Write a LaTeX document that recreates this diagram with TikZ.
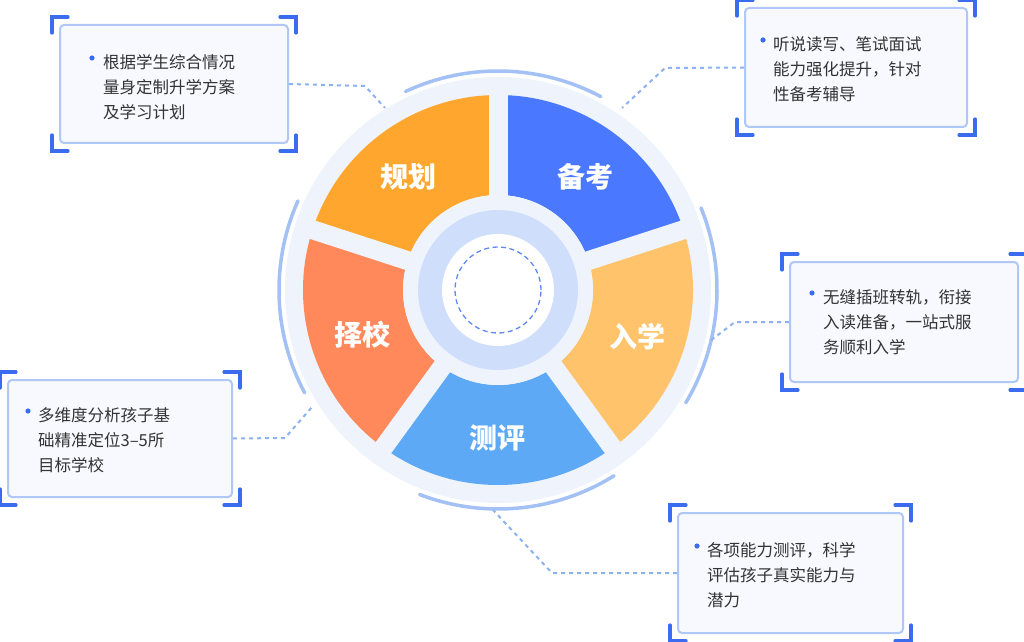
\documentclass[tikz,border=0pt]{standalone}
\usepackage{fontspec}
\setmainfont{Noto Sans CJK SC}
\usetikzlibrary{calc}
\definecolor{bgd}{HTML}{EEF3FC}
\definecolor{arcb}{HTML}{A3C1F5}
\definecolor{brkc}{HTML}{3B6CF0}
\definecolor{bxl}{HTML}{AFC8F7}
\definecolor{bxf}{HTML}{F7F9FE}
\definecolor{txt}{HTML}{333333}
\definecolor{cA}{HTML}{4A78FF}
\definecolor{cB}{HTML}{FFC46B}
\definecolor{cC}{HTML}{5EA9F5}
\definecolor{cD}{HTML}{FF895B}
\definecolor{cE}{HTML}{FFA62E}
\definecolor{ringb}{HTML}{CFDFFB}
\definecolor{dashc}{HTML}{8DB2F2}
\begin{document}
\begin{tikzpicture}[x=1pt,y=1pt,
  box/.style={draw=bxl,line width=2pt,fill=bxf,rounded corners=4pt,minimum width=#1,inner sep=0pt},
  txtn/.style={anchor=north west,align=left,inner sep=0pt,font=\fontsize{16.5}{25}\selectfont,text=txt},
  lab/.style={font=\fontsize{28}{30}\selectfont\bfseries,text=white},
  conn/.style={draw=dashc,line width=2pt,dash pattern=on 4pt off 4pt},
  corner/.style={draw=brkc,line width=3.2pt,line cap=round}]
\useasboundingbox (0,0) rectangle (1024,641);
\fill[white] (0,0) rectangle (1024,641);
\coordinate (C) at (498,351);
\fill[bgd] (C) circle[radius=213];
\foreach \a/\b in {62/115, -31/22, -111/-58, 156/208}
  \draw[arcb,line width=3.5pt,line cap=round] ($(C)+(\a:219)$) arc[start angle=\a,end angle=\b,radius=219];
\foreach \a/\c in {18/cA, -54/cB, -126/cC, 162/cD, 90/cE}{
  \pgfmathsetmacro{\e}{\a+72}
  \fill[\c] ($(C)+(\a:195)$) arc[start angle=\a,end angle=\e,radius=195] -- ($(C)+(\e:95)$) arc[start angle=\e,end angle=\a,radius=95] -- cycle;
}
\foreach \a in {90,18,-54,-126,162}
  \draw[bgd,line width=19pt] (C) -- ($(C)+(\a:205)$);
\fill[bgd] (C) circle[radius=95];
\fill[ringb] (C) circle[radius=80];
\fill[white] (C) circle[radius=56];
\draw[brkc!80,line width=1.3pt,dash pattern=on 5pt off 3.5pt] (C) circle[radius=43];
\node[lab] (l1) at (408,464) {规划};
\node[lab] (l2) at (585,464) {备考};
\node[lab] (l3) at (637,304) {入学};
\node[lab] (l4) at (497,203) {测评};
\node[lab] (l5) at (362,306) {择校};
\node[box=228pt,minimum height=118pt] (b1) at (174,557) {};
\node[box=222pt,minimum height=119pt] (b2) at (856,573.5) {};
\node[box=228pt,minimum height=120pt] (b3) at (904,319) {};
\node[box=224pt,minimum height=117pt] (b4) at (120,202.5) {};
\node[box=225pt,minimum height=120pt] (b5) at (790.5,68) {};
\foreach \n in {b1,b2,b3,b4,b5}{
  \draw[corner] ($(\n.north west)+(-7,-9)$) -- ($(\n.north west)+(-7,7)$) -- ($(\n.north west)+(9,7)$);
  \draw[corner] ($(\n.north east)+(7,-9)$) -- ($(\n.north east)+(7,7)$) -- ($(\n.north east)+(-9,7)$);
  \draw[corner] ($(\n.south west)+(-7,9)$) -- ($(\n.south west)+(-7,-7)$) -- ($(\n.south west)+(9,-7)$);
  \draw[corner] ($(\n.south east)+(7,9)$) -- ($(\n.south east)+(7,-7)$) -- ($(\n.south east)+(-9,-7)$);
}
\node[txtn] (t1) at (103,587) {根据学生综合情况\\量身定制升学方案\\及学习计划};
\node[txtn] (t2) at (773,605) {听说读写、笔试面试\\能力强化提升，针对\\性备考辅导};
\node[txtn] (t3) at (823,352) {无缝插班转轨，衔接\\入读准备，一站式服\\务顺利入学};
\node[txtn] (t4) at (38,234) {多维度分析孩子基\\础精准定位3–5所\\目标学校};
\node[txtn] (t5) at (707,99) {各项能力测评，科学\\评估孩子真实能力与\\潜力};
\foreach \x/\y in {92/583, 763/601, 812/348, 28/230, 697/95}
  \fill[brkc] (\x,\y) circle[radius=2.6];
\coordinate (k1a) at (365,555); \coordinate (k1b) at (385,533);
\draw[conn] (b1.east) -- (k1a) -- (k1b);
\coordinate (k2a) at (665,573); \coordinate (k2b) at (622,533);
\draw[conn] (b2.west) -- (k2a) -- (k2b);
\coordinate (k3a) at (735,319); \coordinate (k3b) at (710,300);
\draw[conn] (b3.west) -- (k3a) -- (k3b);
\coordinate (k4a) at (285,203); \coordinate (k4b) at (312,234);
\draw[conn] (b4.east) -- (k4a) -- (k4b);
\coordinate (k5a) at (552,68); \coordinate (k5b) at (493,131);
\draw[conn] (b5.west) -- (k5a) -- (k5b);
\end{tikzpicture}
\end{document}
